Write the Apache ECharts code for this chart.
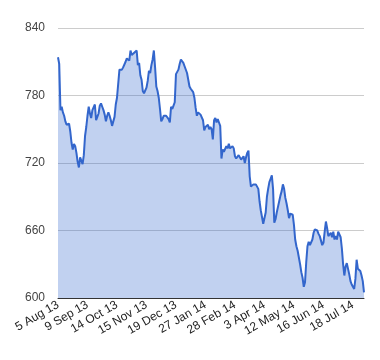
<!DOCTYPE html>
<html><head><meta charset="utf-8">
<script src="https://cdn.jsdelivr.net/npm/echarts@6/dist/echarts.min.js"></script>
<style>html,body{margin:0;padding:0;background:#fff}#c{width:380px;height:360px}</style>
</head><body><div id="c"></div>
<script>
var tickLabels = ['5 Aug 13','9 Sep 13','14 Oct 13','15 Nov 13','19 Dec 13','27 Jan 14','28 Feb 14','3 Apr 14','12 May 14','16 Jun 14','18 Jul 14'];
var labelStep = 24;
var values = [
814,808,767,770,765,762,757,754,753,755,
748,738,732,737,735,729,721,716,725,724,
719,727,744,752,762,770,764,760,767,766,
772,758,761,764,771,773,770,767,763,757,
762,765,762,758,753,752,761,772,778,779,
803,804,803,805,806,810,813,814,811,820,
816,815,818,817,820,807,809,798,794,784,
782,781,787,793,802,800,807,812,820,805,
788,784,778,768,757,759,762,763,762,761,
759,756,770,768,771,774,799,801,803,808,
812,811,809,806,806,800,794,788,786,785,
783,778,769,762,765,764,763,764,758,749,
752,753,754,750,752,750,741,758,760,756,
759,756,753,724,732,730,729,735,733,737,
733,734,735,733,726,724,725,727,726,723,
722,726,720,725,729,731,708,699,700,701,
700,701,699,697,686,678,672,666,665,676,
690,697,703,706,709,697,667,670,676,681,
686,691,695,701,697,689,684,678,671,675,
676,674,665,652,646,642,636,630,623,618,
610,614,632,646,650,647,647,652,658,661,
662,660,657,655,654,647,649,659,668,662,
655,656,658,654,659,652,655,652,659,659,
654,644,630,620,628,631,632,621,615,612,
610,608,617,634,626,627,624,620,615,605
];
var yTicks = {min: 600, max: 840, step: 60};

var categories = values.map(function (v, i) {
  return i % labelStep === 0 ? (tickLabels[i / labelStep] || '') : '';
});

var chart = echarts.init(document.getElementById('c'), null, {renderer: 'canvas'});
chart.setOption({
  animation: false,
  backgroundColor: '#fff',
  grid: {left: 58, right: 16, top: 28, bottom: 62, containLabel: false},
  xAxis: {
    type: 'category',
    data: categories,
    boundaryGap: false,
    axisLine: {show: true, lineStyle: {color: '#333', width: 1}},
    axisTick: {show: false},
    splitLine: {show: false},
    axisLabel: {
      interval: function (i) { return i % labelStep === 0; },
      rotate: 30,
      margin: 6,
      color: '#222',
      fontFamily: 'Liberation Sans, Arial, sans-serif',
      fontSize: 12
    }
  },
  yAxis: {
    type: 'value',
    min: yTicks.min, max: yTicks.max, interval: yTicks.step,
    axisLine: {show: false},
    axisTick: {show: false},
    splitLine: {lineStyle: {color: '#cccccc', width: 1}},
    axisLabel: {
      margin: 13,
      color: '#444',
      fontFamily: 'Liberation Sans, Arial, sans-serif',
      fontSize: 12
    }
  },
  series: [{
    type: 'line',
    data: values,
    showSymbol: false,
    symbol: 'none',
    lineStyle: {color: '#3366cc', width: 2},
    areaStyle: {color: '#3366cc', opacity: 0.3, origin: 'start'},
    z: 2
  }]
});
</script>
</body></html>
